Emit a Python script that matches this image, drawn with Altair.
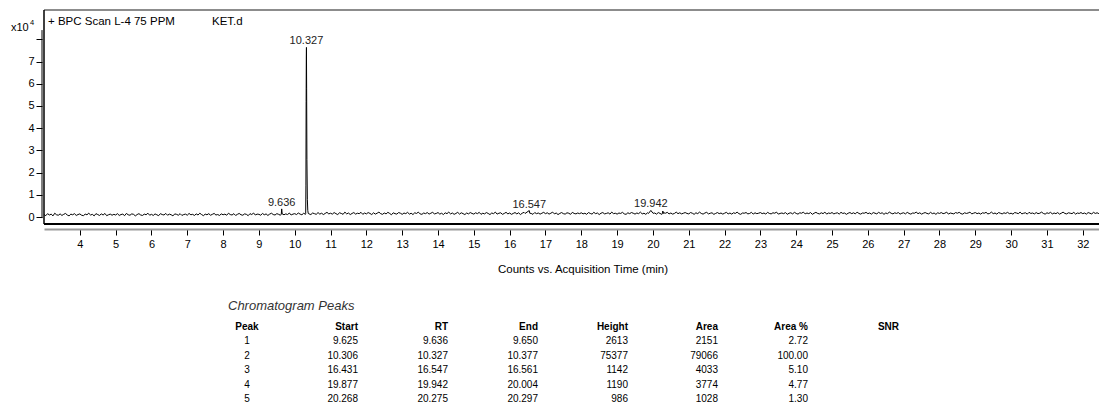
import altair as alt
import pandas as pd

# ---------------- chromatogram trace (counts), sampled every 0.05 min from 3.00 min -------------
trace_start = 3.0
trace_step = 0.05
baseline_03_to_10 = [
    1100, 600, 1500, 900, 1300, 500, 1700, 1000, 800, 1400, 700, 1200, 1600, 900, 500, 1300, 1000, 1500, 700, 1100,
    1400, 800, 600, 1300, 1000, 1700, 900, 1200, 500, 1500, 1100, 700, 1400, 900, 1600, 600, 1000, 1300, 800, 1200,
    900, 1500, 700, 1100, 1300, 600, 1600, 1000, 800, 1400, 1200, 500, 1100, 1500, 900, 700, 1300, 1000, 1700, 800,
    1200, 700, 1400, 1000, 600, 1500, 1100, 900, 1600, 800, 1300, 1000, 500, 1400, 1200, 800, 1500, 700, 1100, 1300,
    800, 1600, 1000, 1200, 700, 1400, 900, 1700, 1100, 600, 1300, 1000, 1500, 800, 1200, 1600, 900, 1100, 700, 1400,
    1000, 1300, 800, 1700, 1100, 900, 1500, 700, 1200, 1600, 1000, 800, 1400, 1200, 600, 1500, 1100, 1800, 900, 1300,
    1200, 800, 1600, 1000, 1400, 700, 1300, 1700, 1100, 900, 1500, 1200, 800, 1600, 1000, 1400, 1100, 1800, 900, 1300,
]
baseline_10_to_20 = [
    1500, 1100, 1800, 1300, 1000, 1700, 1200, 1900, 1400, 1100, 1800, 1500, 1200, 2000, 1300, 1700, 1100, 1600, 2100, 1400,
    1700, 1300, 2000, 1500, 1100, 1900, 1600, 1200, 2200, 1400, 1800, 1100, 1600, 2000, 1300, 1700, 1500, 2100, 1200, 1800,
    1400, 2000, 1600, 1100, 1900, 1300, 1700, 2200, 1500, 1200, 1800, 1400, 2100, 1600, 1000, 1900, 1500, 1300, 2000, 1700,
    1200, 1800, 1500, 2100, 1300, 1700, 1100, 1900, 1600, 2200, 1400, 1200, 1800, 1500, 2000, 1300, 1700, 2100, 1400, 1600,
    2000, 1300, 1700, 1100, 1900, 1500, 2200, 1400, 1800, 1200, 1600, 2100, 1300, 1900, 1500, 1100, 1800, 1400, 2000, 1600,
    1300, 1900, 1500, 2100, 1200, 1700, 1400, 2000, 1600, 1100, 1800, 1500, 2200, 1300, 1700, 1900, 1200, 1600, 2100, 1400,
    1800, 1200, 1600, 2000, 1400, 1900, 1100, 1700, 2100, 1500, 1300, 1900, 1600, 1200, 2000, 1500, 1800, 1300, 1700, 2100,
    1500, 1900, 1300, 1700, 2200, 1400, 1800, 1100, 1600, 2000, 1500, 1300, 1900, 1700, 1200, 2100, 1600, 1400, 1800, 1500,
    1900, 1400, 1700, 1200, 2000, 1600, 1300, 2100, 1500, 1800, 1100, 1700, 2000, 1400, 1600, 1900, 1300, 2200, 1500, 1700,
    1300, 1800, 1600, 2100, 1400, 1200, 1900, 1500, 2000, 1700, 1300, 1800, 1500, 2200, 1400, 1700, 1200, 1900, 1600, 2000,
]
baseline_20_to_33 = [
    1500, 1800, 1300, 2000, 1600, 1200, 1900, 1700, 2100, 1400, 1800, 1300, 1600, 2200, 1500, 1900, 1400, 1700, 2000, 1600,
    1400, 2000, 1700, 1200, 1900, 1500, 2200, 1600, 1300, 1800, 2100, 1400, 1700, 1900, 1200, 1600, 2000, 1500, 1800, 1300,
    1700, 2100, 1400, 1800, 1300, 1900, 1600, 2200, 1500, 1200, 1800, 1700, 2000, 1400, 1600, 2100, 1300, 1900, 1500, 1700,
    2000, 1500, 1800, 1300, 2100, 1600, 1400, 1900, 1700, 2200, 1300, 1600, 1800, 1500, 2000, 1200, 1700, 1900, 1400, 2100,
    1600, 1300, 1900, 1700, 2200, 1400, 1800, 1500, 2000, 1200, 1700, 2100, 1600, 1400, 1900, 1500, 2200, 1300, 1800, 1600,
    2000, 1400, 1700, 1900, 1300, 2100, 1600, 1800, 1200, 1700, 2000, 1500, 1900, 1400, 2200, 1600, 1300, 1800, 1700, 2100,
    1500, 1800, 1300, 2000, 1700, 1400, 2100, 1600, 1900, 1200, 1800, 1500, 2200, 1700, 1400, 1900, 1600, 2000, 1300, 1700,
    1900, 1400, 2100, 1600, 1300, 1800, 1700, 2200, 1500, 1900, 1300, 1700, 2000, 1600, 1400, 2100, 1500, 1800, 1200, 1900,
    1600, 2000, 1500, 1700, 2200, 1300, 1800, 1600, 1400, 2000, 1700, 2100, 1500, 1300, 1900, 1600, 1800, 2200, 1400, 1700,
    2000, 1500, 1800, 1300, 1900, 1700, 2100, 1400, 1600, 2200, 1500, 1800, 1300, 2000, 1700, 1400, 1900, 1600, 2100, 1500,
    1700, 1300, 2000, 1800, 1500, 2200, 1400, 1700, 1900, 1300, 2100, 1600, 1800, 1400, 2000, 1500, 1700, 2200, 1600, 1300,
    1900, 1600, 2100, 1400, 1800, 1500, 2000, 1300, 1700, 2200, 1600, 1400, 1900, 1700, 1500, 2100, 1300, 1800, 1600, 2000,
    1500, 1800, 1300, 2000, 1700, 1400, 2100, 1600, 1900, 1500,
]

# points read around the detected peaks (min, counts)
peak_point_times = [9.625, 9.636, 9.650,
                    10.306, 10.312, 10.318, 10.323, 10.327, 10.332, 10.340, 10.352, 10.364, 10.377,
                    16.431, 16.547, 16.561,
                    19.877, 19.942, 20.004,
                    20.268, 20.275, 20.297]
peak_point_counts = [1300, 3650, 1400,
                     1500, 14000, 52000, 71000, 76400, 58000, 26000, 8000, 3000, 1600,
                     1600, 2900, 1700,
                     1600, 2950, 1650,
                     1700, 2700, 1600]

# labelled peaks
label_rt = [9.636, 10.327, 16.547, 19.942]
label_text = ["9.636", "10.327", "16.547", "19.942"]
label_apex = [3650, 76400, 2900, 2950]

x_ticks = list(range(4, 33))
y_ticks = [0, 10000, 20000, 30000, 40000, 50000, 60000, 70000, 80000]

# peak table
tbl_peak = ["1", "2", "3", "4", "5"]
tbl_start = ["9.625", "10.306", "16.431", "19.877", "20.268"]
tbl_rt = ["9.636", "10.327", "16.547", "19.942", "20.275"]
tbl_end = ["9.650", "10.377", "16.561", "20.004", "20.297"]
tbl_height = ["2613", "75377", "1142", "1190", "986"]
tbl_area = ["2151", "79066", "4033", "3774", "1028"]
tbl_area_pct = ["2.72", "100.00", "5.10", "4.77", "1.30"]

# ---------------- build data ----------------
baseline = baseline_03_to_10 + baseline_10_to_20 + baseline_20_to_33
base_times = [round(trace_start + trace_step * i, 2) for i in range(len(baseline))]
windows = list(zip([float(s) for s in tbl_start], [float(e) for e in tbl_end]))
keep = [(t, c) for t, c in zip(base_times, baseline)
        if not any(s <= t <= e for s, e in windows)]
trace = pd.DataFrame({"t": [k[0] for k in keep] + peak_point_times,
                      "c": [k[1] for k in keep] + peak_point_counts}).sort_values("t")
labels = pd.DataFrame({"t": label_rt, "c": label_apex, "lab": label_text})
table = pd.DataFrame({"row": [1, 2, 3, 4, 5], "peak": tbl_peak, "start": tbl_start,
                      "rt": tbl_rt, "end": tbl_end, "height": tbl_height,
                      "area": tbl_area, "pct": tbl_area_pct})
one = pd.DataFrame({"a": [0]})

FONT = "Liberation Sans"
W, H = 1055, 214
x_dom = [3.0, 32.453]
y_dom = [-3153, 93243]
xs = alt.Scale(domain=x_dom, nice=False, zero=False)
ys = alt.Scale(domain=y_dom, nice=False, zero=False)


def ypx(v):
    return H * (y_dom[1] - v) / (y_dom[1] - y_dom[0])


x_axis = alt.Axis(values=x_ticks, format="d", offset=5, domainColor="#9a9a9a", domainWidth=2,
                  tickColor="#000", tickSize=6, tickWidth=1, labelFontSize=11, labelColor="#000",
                  labelFont=FONT, labelPadding=3, grid=False, title=None, labelOverlap=False,
                  labelFlush=False)
y_axis = alt.Axis(values=y_ticks, offset=2, domain=False, tickSize=6, tickColor="#000", tickWidth=1,
                  labelExpr="datum.value >= 80000 ? '' : format(datum.value / 10000, 'd')",
                  labelFontSize=11, labelColor="#000", labelFont=FONT, labelPadding=2,
                  grid=False, title=None)

line = alt.Chart(trace).mark_line(color="#000", strokeWidth=1.0, clip=True).encode(
    x=alt.X("t:Q", scale=xs, axis=x_axis),
    y=alt.Y("c:Q", scale=ys, axis=y_axis),
)

peak_labels = alt.Chart(labels).mark_text(font=FONT, fontSize=11, color="#222",
                                          baseline="bottom", dy=-1).encode(
    x=alt.X("t:Q", scale=xs, axis=x_axis),
    y=alt.Y("c:Q", scale=ys, axis=y_axis),
    text="lab:N",
)

frame_top = alt.Chart(one).mark_rule(color="#8c8c8c", strokeWidth=2).encode(
    x=alt.value(0), x2=alt.value(W), y=alt.value(0))
frame_left = alt.Chart(one).mark_rule(color="#000", strokeWidth=1.5).encode(
    x=alt.value(0), y=alt.value(0), y2=alt.value(H))
frame_bottom = alt.Chart(one).mark_rule(color="#000", strokeWidth=2).encode(
    x=alt.value(0), x2=alt.value(W), y=alt.value(H))
y_domain_line = alt.Chart(one).mark_rule(color="#000", strokeWidth=1).encode(
    x=alt.value(-2), y=alt.value(ypx(84200)), y2=alt.value(ypx(-500)))


def txt(s, x, y, size=11, align="left", weight="normal", style="normal", color="#000"):
    return alt.Chart(one).mark_text(font=FONT, fontSize=size, align=align, baseline="middle",
                                    fontWeight=weight, fontStyle=style, color=color).encode(
        x=alt.value(x), y=alt.value(y), text=alt.value(s))


annot = [
    txt("x10", -33, 17.5, size=11),
    txt("4", -14, 12.5, size=7.5),
    txt("+ BPC Scan L-4 75 PPM", 4, 12, size=11.5),
    txt("KET.d", 168, 12, size=11.5),
    txt("Counts vs. Acquisition Time (min)", 539, 260, size=11.5, align="center"),
    txt("Chromatogram Peaks", 184, 296, size=13, style="italic", color="#333"),
]

main = alt.layer(line, peak_labels, frame_top, frame_left, frame_bottom, y_domain_line, *annot)

row_scale = alt.Scale(type="point", domain=[1, 2, 3, 4, 5], range=[331, 389], padding=0)
columns = [
    ("Peak", "peak", 203, "center"),
    ("Start", "start", 314, "right"),
    ("RT", "rt", 404, "right"),
    ("End", "end", 494, "right"),
    ("Height", "height", 584, "right"),
    ("Area", "area", 674, "right"),
    ("Area %", "pct", 764, "right"),
]
tbl_layers = []
for head, field, xpos, al in columns:
    tbl_layers.append(
        alt.Chart(table).mark_text(font=FONT, fontSize=10, align=al, baseline="middle",
                                   color="#000").encode(
            x=alt.value(xpos),
            y=alt.Y("row:O", scale=row_scale, axis=None),
            text=alt.Text(f"{field}:N"),
        )
    )
    tbl_layers.append(txt(head, xpos, 317, size=10, align=al, weight="bold"))
tbl_layers.append(txt("SNR", 855, 317, size=10, align="right", weight="bold"))
tbl = alt.layer(*tbl_layers)

chart = alt.layer(main, tbl).resolve_scale(y="independent").properties(
    width=W, height=H,
    autosize=alt.AutoSizeParams(type="none"),
    padding={"left": 36, "top": 2, "right": 0, "bottom": 183},
).configure(font=FONT).configure_view(stroke=None)

chart.save("out.html", embed_options={"renderer": "svg", "actions": False})
